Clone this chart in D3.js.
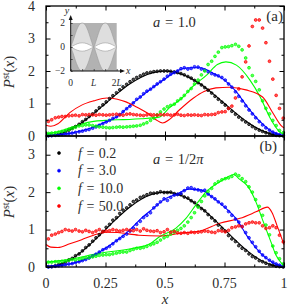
<!DOCTYPE html>
<html><head><meta charset="utf-8">
<script src="https://cdnjs.cloudflare.com/ajax/libs/d3/7.8.5/d3.min.js"></script>
<style>
html,body{margin:0;padding:0;background:#fff}
svg{display:block}
text{font-family:"Liberation Serif",serif;fill:#2c2c2c}
</style></head><body><div id="c"></div>
<script>
const fLabels=["f = 0.2","f = 3.0","f = 10.0","f = 50.0"];
const colors=["#000000","#0000ff","#00ff00","#ff0000"];
const xTicks=[0,0.25,0.5,0.75,1];
const xTickLabels=["0","0.25","0.5","0.75","1"];
const xMinor=[0.125,0.375,0.625,0.875];
const markerX=[.01,.024,.039,.053,.067,.081,.096,.11,.124,.139,.153,.167,.181,.196,.21,.224,.239,.253,.267,.281,.296,.31,.324,.339,.353,.367,.381,.396,.41,.424,.439,.453,.467,.481,.496,.51,.524,.539,.553,.567,.581,.596,.61,.624,.639,.653,.667,.681,.696,.71,.724,.739,.753,.767,.781,.796,.81,.824,.839,.853,.867,.881,.896,.91,.924,.939,.953,.967,.981,.997];
const aBlack=[.01,.02,.03,.05,.09,.13,.18,.23,.29,.36,.44,.51,.6,.68,.77,.87,.96,1.05,1.15,1.24,1.33,1.42,1.51,1.59,1.67,1.74,1.8,1.85,1.9,1.94,1.96,1.98,1.99,2,2,2,1.99,1.97,1.95,1.92,1.88,1.83,1.78,1.71,1.64,1.57,1.49,1.41,1.32,1.22,1.13,1.04,.95,.85,.76,.67,.58,.5,.43,.36,.29,.23,.18,.14,.1,.07,.04,.02,.01,0];
const aBlue=[.01,.01,.02,.03,.05,.06,.07,.09,.11,.13,.15,.18,.2,.24,.28,.33,.38,.43,.48,.54,.59,.66,.75,.84,.92,1.02,1.13,1.2,1.3,1.38,1.44,1.52,1.6,1.67,1.75,1.84,1.9,1.95,2,2.07,2.1,2.06,2.08,2.13,2.12,2.06,2.03,1.98,1.92,1.88,1.85,1.8,1.72,1.6,1.5,1.36,1.22,1.08,.93,.8,.68,.56,.44,.34,.25,.18,.12,.07,.04,.02];
const aGreen=[.08,.09,.1,.12,.14,.17,.2,.24,.27,.31,.32,.34,.34,.32,.3,.28,.27,.26,.25,.26,.27,.28,.27,.28,.29,.3,.31,.33,.37,.41,.48,.55,.65,.74,.83,.9,.94,.98,1.08,1.15,1.25,1.37,1.46,1.6,1.72,1.88,2,2.2,2.3,2.45,2.58,2.72,2.74,2.75,2.78,2.82,2.76,2.65,2.4,2.1,1.86,1.68,1.42,1.08,.85,.68,.48,.32,.17,.1];
const aRed=[.45,.5,.56,.58,.6,.6,.62,.63,.64,.62,.66,.65,.66,.65,.64,.66,.65,.64,.65,.66,.67,.65,.64,.67,.68,.66,.65,.64,.63,.65,.66,.65,.64,.66,.65,.66,.64,.65,.67,.64,.63,.65,.64,.65,.64,.63,.66,.65,.66,.67,.72,.74,.75,.85,.92,1.17,1.45,1.82,2.28,2.77,3.37,3.57,3.57,3.32,2.87,2.3,1.75,1.25,.85,.55];
const bBlack=[.01,.01,.03,.06,.08,.12,.19,.23,.3,.35,.43,.52,.59,.69,.78,.86,.95,1.06,1.14,1.25,1.32,1.43,1.52,1.58,1.66,1.75,1.79,1.86,1.89,1.93,1.97,1.97,1.98,2.01,1.99,1.99,2,1.96,1.94,1.93,1.87,1.84,1.77,1.72,1.63,1.56,1.5,1.4,1.31,1.23,1.12,1.03,.96,.84,.75,.68,.57,.5,.44,.35,.28,.24,.17,.14,.1,.06,.05,.02,.01,0];
const bBlue=[0,.01,.02,.03,.04,.06,.08,.09,.12,.14,.17,.2,.24,.29,.34,.4,.46,.5,.55,.62,.7,.76,.82,.88,.96,1.04,1.14,1.22,1.32,1.38,1.45,1.58,1.66,1.74,1.82,1.78,1.86,1.92,1.94,1.97,2.04,2.11,2.12,2.08,2.06,2.03,2.05,1.95,1.88,1.82,1.74,1.68,1.6,1.48,1.38,1.28,1.2,1.08,.92,.78,.66,.54,.42,.32,.25,.18,.13,.08,.05,.02];
const bGreen=[.13,.13,.14,.14,.15,.16,.18,.2,.19,.21,.23,.25,.25,.27,.29,.31,.32,.33,.33,.35,.37,.39,.4,.4,.44,.47,.5,.5,.52,.55,.59,.62,.66,.72,.78,.82,.88,.93,.98,1.03,1.1,1.2,1.32,1.45,1.6,1.75,1.9,2.02,2.1,2.22,2.28,2.33,2.36,2.38,2.42,2.48,2.44,2.36,2.28,2.14,2,1.8,1.62,1.38,1.12,.86,.56,.38,.22,.08];
const bRed=[.75,.85,.88,.92,.95,1,.98,.96,1,.96,.94,.98,.95,.92,.96,1,.94,.96,.97,1,.98,.96,.98,1,.98,.97,1,.96,1.02,.98,.96,.95,.97,.92,.94,1,.93,.95,.91,.9,.92,.9,.93,.92,.93,.94,.96,.95,.93,.92,.97,.96,.94,.98,1.05,1.07,1.1,1.08,1.15,1.18,1.2,1.18,1.18,1.1,1.03,1.05,1.1,1.05,.85,.67];
const lineX=[0,.05,.1,.15,.2,.25,.3,.35,.4,.45,.5,.55,.6,.65,.7,.75,.8,.85,.9,.95,1];
const aBlackLine=[0,.05,.19,.41,.69,1,1.31,1.59,1.81,1.95,2,1.95,1.81,1.59,1.31,1,.69,.41,.19,.05,0];
const aBlueLine=[0,.03,.08,.16,.28,.43,.6,.92,1.22,1.5,1.76,2,2.1,2.1,1.94,1.72,1.36,.86,.44,.13,.01];
const aGreenX=[0,.05,.1,.15,.2,.25,.3,.35,.4,.475,.517,.576,.613,.676,.72,.756,.8,.857,.9,.94,.983,1];
const aGreenLine=[.07,.13,.25,.37,.45,.48,.5,.51,.53,.58,.86,1.2,1.5,1.88,2.2,2.28,2.18,1.72,1.2,.58,.12,.05];
const aRedX=[0,.02,.05,.1,.15,.2,.256,.3,.336,.378,.437,.462,.49,.517,.56,.62,.664,.714,.77,.84,.91,.954,.987,1];
const aRedLine=[.33,.3,.38,.72,.95,1.08,1.17,1.13,1.05,.9,.65,.5,.4,.5,.8,1.17,1.37,1.48,1.5,1.42,1.2,.7,.33,.25];
const bBlackLine=aBlackLine;
const bBlueLine=[0,.03,.08,.17,.31,.5,.72,.98,1.3,1.56,1.82,1.95,2.08,2.06,1.86,1.6,1.28,.78,.38,.13,.01];
const bGreenX=[0,.086,.227,.366,.437,.475,.546,.588,.63,.672,.744,.79,.81,.85,.882,.91,.945,.966,.99,1];
const bGreenLine=[.13,.19,.37,.5,.62,.8,1.04,1.3,1.66,2,2.33,2.47,2.36,2.14,1.74,1.26,.67,.32,.1,.04];
const bRedX=[0,.02,.05,.1,.15,.2,.25,.3,.39,.48,.563,.647,.73,.815,.885,.93,.95,.97,1];
const bRedLine=[.6,.53,.52,.62,.73,.85,.93,.92,.85,.83,.9,.96,1.17,1.3,1.48,1.6,1.45,1.12,.6];
const insetX=[0,.1,.2,.3,.4,.5,.6,.7,.8,.9,1,1.1,1.2,1.3,1.4,1.5,1.6,1.7,1.8,1.9,2];
const insetOuter=[0,.5,1.1,1.6,1.92,2,1.92,1.6,1.1,.5,0,.5,1.1,1.6,1.92,2,1.92,1.6,1.1,.5,0];
const insetInner=[0,.1,.2,.28,.33,.35,.33,.28,.2,.1,0,.1,.2,.28,.33,.35,.33,.28,.2,.1,0];

const W=288,H=307,L=46,R=284,topA=6,botA=136,botB=267;
const svg=d3.select("#c").append("svg").attr("width",W).attr("height",H);
const x=d3.scaleLinear().domain([0,1]).range([L,R]);
const yA=d3.scaleLinear().domain([0,4]).range([botA,topA]);
const yB=d3.scaleLinear().domain([0,3.5]).range([botB,botA]);

function panel(y,yTicks,markers,lines){
  const g=svg.append("g");
  const mk=d3.line().x(d=>x(d[0])).y(d=>y(d[1])).curve(d3.curveMonotoneX);
  lines.forEach((l,i)=>{
    g.append("path").attr("d",mk(d3.zip(l.x,l.y))).attr("fill","none")
     .attr("stroke",colors[i]).attr("stroke-width",1.1);
  });
  markers.forEach((m,i)=>{
    g.selectAll(null).data(d3.zip(markerX,m)).join("circle")
     .attr("cx",d=>x(d[0])).attr("cy",d=>y(d[1])).attr("r",1.4)
     .attr("fill",colors[i]).attr("fill-opacity",.65)
     .attr("stroke",colors[i]).attr("stroke-width",.75);
  });
  const minorY=d3.range(0.5,y.domain()[1],1);
  const ax=(gen,tr)=>{
    const a=svg.append("g").attr("transform",tr).call(gen);
    a.selectAll(".domain").remove();
    a.selectAll("line").attr("stroke","#000").attr("stroke-width",1);
    return a;
  };
  const bottom=y.range()[0], top=y.range()[1];
  [[d3.axisBottom,bottom,-4.5,-2.5],[d3.axisTop,top,4.5,2.5]].forEach(([f,pos,mj,mn])=>{
    ax(f(x).tickValues(xTicks).tickSize(Math.abs(mj)).tickFormat(""),`translate(0,${pos})`)
      .selectAll("line").attr("y2",mj);
    ax(f(x).tickValues(xMinor).tickSize(Math.abs(mn)).tickFormat(""),`translate(0,${pos})`)
      .selectAll("line").attr("y2",mn);
  });
  [[d3.axisLeft,L,4.5,2.5],[d3.axisRight,R,-4.5,-2.5]].forEach(([f,pos,mj,mn])=>{
    ax(f(y).tickValues(yTicks).tickSize(4).tickFormat(""),`translate(${pos},0)`)
      .selectAll("line").attr("x2",mj);
    ax(f(y).tickValues(minorY).tickSize(2).tickFormat(""),`translate(${pos},0)`)
      .selectAll("line").attr("x2",mn);
  });
  svg.append("rect").attr("x",L).attr("y",top).attr("width",R-L).attr("height",bottom-top)
     .attr("fill","none").attr("stroke","#000").attr("stroke-width",1.3);
  yTicks.forEach(t=>{
    svg.append("text").attr("x",35).attr("y",y(t)+4.5).attr("text-anchor","end")
       .attr("font-size",14).text(t);
  });
}
panel(yA,[0,1,2,3,4],[aBlack,aBlue,aGreen,aRed],[
  {x:lineX,y:aBlackLine},{x:lineX,y:aBlueLine},{x:aGreenX,y:aGreenLine},{x:aRedX,y:aRedLine}]);
panel(yB,[0,1,2,3],[bBlack,bBlue,bGreen,bRed],[
  {x:lineX,y:bBlackLine},{x:lineX,y:bBlueLine},{x:bGreenX,y:bGreenLine},{x:bRedX,y:bRedLine}]);

xTicks.forEach((t,i)=>{
  svg.append("text").attr("x",x(t)).attr("y",288).attr("text-anchor","middle")
     .attr("font-size",14).text(xTickLabels[i]);
});
svg.append("text").attr("x",x(.5)).attr("y",304).attr("text-anchor","middle")
   .attr("font-size",15).attr("font-style","italic").text("x");

function pLabel(cy){
  const t=svg.append("text").attr("transform",`translate(14,${cy}) rotate(-90)`)
     .attr("text-anchor","middle").attr("font-size",15);
  t.append("tspan").attr("font-style","italic").text("P");
  t.append("tspan").attr("font-size",10).attr("dy",-5).text("st");
  t.append("tspan").attr("dy",5).text("(");
  t.append("tspan").attr("font-style","italic").text("x");
  t.append("tspan").text(")");
}
pLabel(72);pLabel(202);

const a1=svg.append("text").attr("x",153).attr("y",27).attr("font-size",14.5).attr("word-spacing",1);
a1.append("tspan").attr("font-style","italic").text("a");
a1.append("tspan").text(" = 1.0");
const t2=svg.append("text").attr("x",153).attr("y",164).attr("font-size",14.5).attr("word-spacing",1);
t2.append("tspan").attr("font-style","italic").text("a");
t2.append("tspan").text(" = 1/2");
t2.append("tspan").attr("font-style","italic").text("π");
svg.append("text").attr("x",283).attr("y",21).attr("text-anchor","end").attr("font-size",15).text("(a)");
svg.append("text").attr("x",277).attr("y",151).attr("text-anchor","end").attr("font-size",15).text("(b)");

const legY=d3.scaleLinear().domain([0,3]).range([153,206]);
fLabels.forEach((s,i)=>{
  svg.append("circle").attr("cx",59).attr("cy",legY(i)).attr("r",1.5).attr("fill",colors[i])
     .attr("stroke",colors[i]).attr("stroke-width",.6);
  const m=s.split(" = ");
  const t=svg.append("text").attr("x",78).attr("y",legY(i)+4.5).attr("font-size",14).attr("word-spacing",1);
  t.append("tspan").attr("font-style","italic").text(m[0]);
  t.append("tspan").text(" = "+m[1]);
});

// inset
const ix=d3.scaleLinear().domain([0,2]).range([70.7,116.7]);
const iy=d3.scaleLinear().domain([-2,2]).range([71,23]);
const ig=svg.append("g");
ig.append("rect").attr("x",ix(0)).attr("y",iy(2)).attr("width",ix(2)-ix(0)).attr("height",iy(-2)-iy(2)).attr("fill","#b2b2b2");
const area=(f)=>d3.area().x(d=>ix(d[0])).y0(d=>iy(-f(d))).y1(d=>iy(f(d))).curve(d3.curveCatmullRom);
const ptsO=d3.zip(insetX,insetOuter), ptsI=d3.zip(insetX,insetInner);
ig.append("path").attr("d",area(d=>d[1])(ptsO)).attr("fill","#dedede").attr("stroke","#999").attr("stroke-width",.6);
ig.append("path").attr("d",area(d=>d[1])(ptsI)).attr("fill","#fff").attr("stroke","#999").attr("stroke-width",.6);
const ax1=svg.append("g").attr("transform","translate(0,71)").call(d3.axisTop(ix).tickValues([0,.5,1,1.5,2]).tickSize(2).tickFormat(""));
const ax2=svg.append("g").attr("transform","translate(70.7,0)").call(d3.axisRight(iy).tickValues([-2,-1,0,1,2]).tickSize(2).tickFormat(""));
[ax1,ax2].forEach(a=>{a.selectAll(".domain").remove();a.selectAll("line").attr("stroke","#333").attr("stroke-width",.8);});
svg.append("path").attr("d","M70.7 71H122").attr("stroke","#111").attr("stroke-width",1).attr("fill","none");
svg.append("path").attr("d","M70.7 71V18").attr("stroke","#111").attr("stroke-width",1).attr("fill","none");
svg.append("path").attr("d","M125 71l-5 -2v4z").attr("fill","#111");
svg.append("path").attr("d","M70.7 15l-2 5h4z").attr("fill","#111");
[["x",126,74,"start"],["y",67,14,"middle"]].forEach(d=>{
  svg.append("text").attr("x",d[1]).attr("y",d[2]).attr("font-size",10).attr("font-style","italic").attr("text-anchor",d[3]).text(d[0]);
});
[[2,"2"],[0,"0"],[-2,"−2"]].forEach(d=>{
  svg.append("text").attr("x",65).attr("y",iy(d[0])+3).attr("font-size",9.5).attr("text-anchor","end").text(d[1]);
});
[[0,"0",""],[1,"","L"],[2,"2","L"]].forEach(d=>{
  const t=svg.append("text").attr("x",ix(d[0])).attr("y",86).attr("font-size",9.5).attr("text-anchor","middle");
  t.append("tspan").text(d[1]);
  t.append("tspan").attr("font-style","italic").text(d[2]);
});
</script></body></html>
